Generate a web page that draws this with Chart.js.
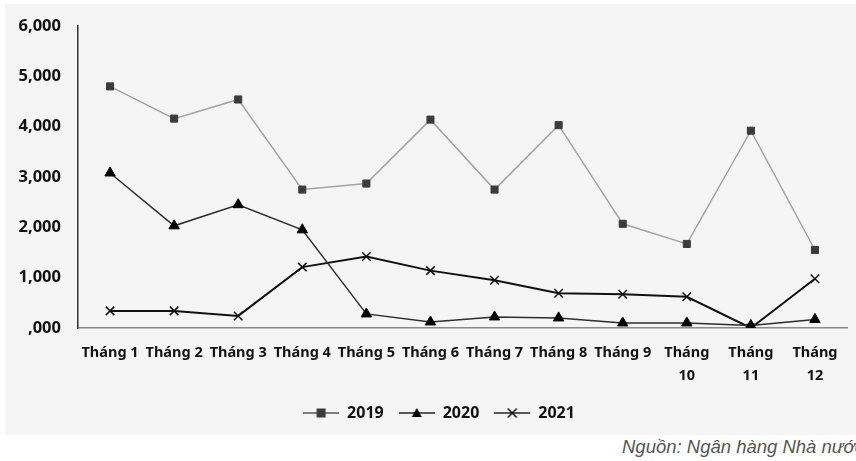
<!DOCTYPE html>
<html>
<head>
<meta charset="utf-8">
<script src="https://cdn.jsdelivr.net/npm/chart.js@4.4.1/dist/chart.umd.min.js"></script>
<style>
  html, body { margin: 0; padding: 0; background: #fff; overflow: hidden; }
  body { width: 856px; height: 461px; position: relative; }
  #panel { position: absolute; left: 5px; top: 4px; width: 851px; height: 431px; background: #f5f5f5; }
  #source {
    position: absolute; left: 622px; top: 436px; white-space: nowrap;
    font-family: "Liberation Sans", Arial, sans-serif; font-style: italic;
    font-size: 18.5px; color: #555;
  }
</style>
</head>
<body>
<div id="panel"><canvas id="chart" width="851" height="431"></canvas></div>
<div id="source">Nguồn: Ngân hàng Nhà nước</div>
<script>
// Danh mục tháng
const months = ['Tháng 1', 'Tháng 2', 'Tháng 3', 'Tháng 4', 'Tháng 5', 'Tháng 6',
  'Tháng 7', 'Tháng 8', 'Tháng 9', ['Tháng', '10'], ['Tháng', '11'], ['Tháng', '12']];

// Giá trị từng năm
const data2019 = [4800, 4160, 4540, 2750, 2870, 4140, 2750, 4030, 2070, 1670, 3920, 1550];
const data2020 = [3080, 2030, 2450, 1950, 280, 120, 220, 200, 100, 100, 50, 170];
const data2021 = [340, 340, 240, 1210, 1420, 1140, 950, 690, 670, 620, 0, 980];

const yMin = 0, yMax = 6000, yStep = 1000;

const fontFamily = '"Noto Sans", "Open Sans", sans-serif';

// icon cho chú giải: đoạn thẳng + ký hiệu
function legendIcon(lineColor, style, fill) {
  const c = document.createElement('canvas');
  c.width = 36; c.height = 14;
  const g = c.getContext('2d');
  g.strokeStyle = lineColor; g.lineWidth = 1.5;
  g.beginPath(); g.moveTo(0, 7); g.lineTo(36, 7); g.stroke();
  g.fillStyle = fill; g.strokeStyle = fill;
  if (style === 'rect') {
    g.fillRect(13.5, 2.5, 9, 9);
  } else if (style === 'triangle') {
    g.beginPath(); g.moveTo(18, 2); g.lineTo(23, 11); g.lineTo(13, 11); g.closePath(); g.fill();
  } else {
    g.lineWidth = 1.5;
    g.beginPath(); g.moveTo(13.5, 2.5); g.lineTo(22.5, 11.5); g.moveTo(22.5, 2.5); g.lineTo(13.5, 11.5); g.stroke();
  }
  return c;
}

const series = [
  { label: '2019', data: data2019, line: '#a3a3a3', mark: '#3b3b3b', style: 'rect', radius: 5, lw: 1.5 },
  { label: '2020', data: data2020, line: '#2e2e2e', mark: '#000', style: 'triangle', radius: 6, lw: 1.5 },
  { label: '2021', data: data2021, line: '#111', mark: '#111', style: 'crossRot', radius: 6, lw: 2 }
];

// dời chú giải sang phải một chút cho giống bản gốc
const shiftLegend = {
  id: 'shiftLegend',
  afterLayout(chart) {
    if (chart.legend) { chart.legend.left += 13; chart.legend.right += 13; }
  }
};

const ctx = document.getElementById('chart').getContext('2d');
const chart = new Chart(ctx, {
  type: 'line',
  data: {
    labels: months,
    datasets: series.map(s => ({
      label: s.label,
      data: s.data,
      borderColor: s.line,
      borderWidth: s.lw,
      pointStyle: s.style,
      pointRadius: s.radius,
      pointHoverRadius: s.radius,
      pointBackgroundColor: s.mark,
      pointBorderColor: s.mark,
      pointBorderWidth: s.style === 'crossRot' ? 1.5 : 1,
      tension: 0,
      fill: false
    }))
  },
  options: {
    responsive: false,
    animation: false,
    layout: { padding: { top: 22, right: 9, left: 0, bottom: 4 } },
    plugins: {
      tooltip: { enabled: false },
      legend: {
        position: 'bottom',
        labels: {
          usePointStyle: true,
          pointStyleWidth: 36,
          padding: 15,
          color: '#111',
          font: { family: fontFamily, size: 16, weight: 'bold' },
          generateLabels: function(chart) {
            return series.map((s, i) => ({
              text: s.label,
              pointStyle: legendIcon(s.line === '#a3a3a3' ? '#555' : '#222', s.style, s.mark),
              datasetIndex: i,
              fontColor: '#111',
              lineWidth: 0,
              strokeStyle: 'transparent',
              fillStyle: 'transparent'
            }));
          }
        }
      }
    },
    scales: {
      x: {
        offset: true,
        grid: { display: false, offset: true },
        border: { display: true, color: '#8c8c8c', width: 1.5 },
        afterFit: function(scale) { scale.height = 62; },
        ticks: {
          color: '#111',
          maxRotation: 0,
          autoSkip: false,
          padding: 6,
          font: { family: fontFamily, size: 14.5, weight: 'bold', lineHeight: 1.55 }
        }
      },
      y: {
        min: yMin,
        max: yMax,
        grid: { display: false },
        border: { display: true, color: '#333', width: 1.5 },
        afterFit: function(scale) { scale.width = 73; },
        ticks: {
          stepSize: yStep,
          color: '#111',
          padding: 9,
          font: { family: fontFamily, size: 16.5, weight: 'bold' },
          callback: v => v === 0 ? ',000' : v.toLocaleString('en-US')
        }
      }
    }
  },
  plugins: [shiftLegend]
});
</script>
</body>
</html>
